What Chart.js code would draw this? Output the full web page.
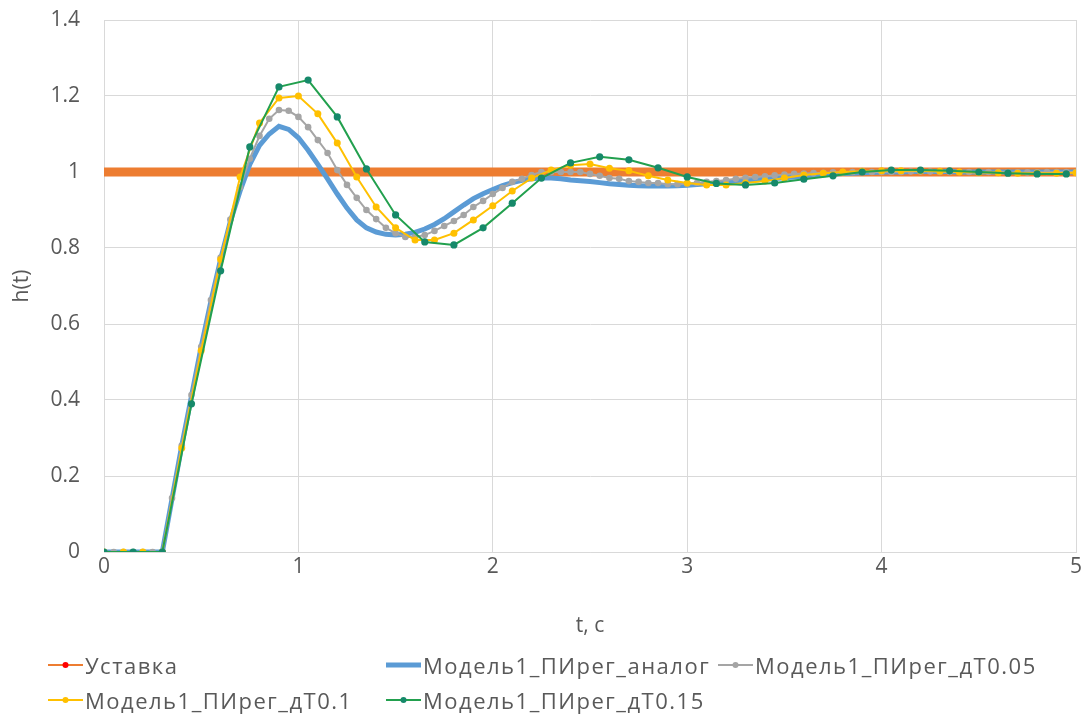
<!DOCTYPE html>
<html>
<head>
<meta charset="utf-8">
<script src="https://cdn.jsdelivr.net/npm/chart.js@4"></script>
<style>
  body { margin: 0; background: #fff; }
  #wrap { position: relative; width: 1085px; height: 715px; }
  #legend { position: absolute; left: 0; top: 0; width: 1085px; height: 715px; pointer-events: none; }
  .item { position: absolute; height: 30px; display: flex; align-items: center; font-family: "Open Sans", sans-serif; font-size: 22px; letter-spacing: 1.5px; color: #595959; white-space: nowrap; }
  .item svg { margin-right: 2px; }
</style>
</head>
<body>
<div id="wrap">
  <canvas id="myChart"></canvas>
  <div id="legend"></div>
</div>
<script>
// step response h(t) values

const tAnalog = Array.from({length: 101}, (_, i) => +(i * 0.05).toFixed(2)); // t, c
const t005 = tAnalog;
const t01 = Array.from({length: 51}, (_, i) => +(i * 0.1).toFixed(1));
const t015 = Array.from({length: 34}, (_, i) => +(i * 0.15).toFixed(2));
const tSet = [0, 5];

const hSet = [1, 1]; // Уставка

const hAnalog = [
    0, 0, 0, 0, 0, 0, 0,
    0.14, 0.28, 0.41, 0.54, 0.66, 0.77, 0.87, 0.95, 1.02, 1.07, 1.10, 1.12,
    1.112, 1.09, 1.057, 1.02, 0.982, 0.942, 0.905, 0.874, 0.853, 0.842, 0.836, 0.834,
    0.836, 0.841, 0.85, 0.862, 0.877, 0.895, 0.913, 0.93, 0.943, 0.954,
    0.964, 0.972, 0.978, 0.982, 0.984, 0.984, 0.982, 0.979, 0.977, 0.975,
    0.972, 0.969, 0.967, 0.965, 0.964, 0.963, 0.963, 0.963, 0.964, 0.965,
    0.967, 0.969, 0.971, 0.973, 0.975, 0.977, 0.979, 0.981, 0.983, 0.985,
    0.987, 0.989, 0.991, 0.993, 0.994, 0.996, 0.997, 0.998, 0.999, 1.0,
    1.0, 1.0, 1.001, 1.001, 1.001, 1.001, 1.001, 1.0, 1.0, 1.0,
    1.0, 1.0, 1.0, 1.0, 1.0, 1.0, 1.0, 1.0, 1.0, 1.0
];

const h005 = [
    0, 0, 0, 0, 0, 0, 0,
    0.142, 0.28, 0.413, 0.54, 0.663, 0.775, 0.875, 0.96, 1.035, 1.095, 1.14, 1.163,
    1.161, 1.145, 1.118, 1.084, 1.05, 1.005, 0.966, 0.932, 0.9, 0.876, 0.853, 0.839,
    0.829, 0.829, 0.834, 0.845, 0.858, 0.871, 0.887, 0.908, 0.924, 0.942,
    0.958, 0.974, 0.982, 0.992, 1.0, 1.0, 1.0, 1.0, 1.0, 0.995,
    0.99, 0.984, 0.982, 0.976, 0.974, 0.971, 0.971, 0.968, 0.968, 0.969,
    0.971, 0.974, 0.976, 0.979, 0.982, 0.985, 0.987, 0.989, 0.991, 0.993,
    0.995, 0.996, 0.997, 0.998, 0.999, 1.0, 1.0, 1.0, 1.0, 1.0,
    1.0, 1.0, 1.001, 1.001, 1.001, 1.0, 1.0, 1.0, 1.0, 1.0,
    1.0, 1.0, 0.999, 0.999, 0.999, 0.999, 1.0, 1.0, 1.0, 1.0
];

const h01 = [
    0, 0, 0, 0, 0.274, 0.53, 0.77, 0.987, 1.129, 1.195,
    1.2, 1.153, 1.076, 0.987, 0.908, 0.853, 0.821, 0.821, 0.839, 0.874,
    0.911, 0.95, 0.984, 1.005, 1.018, 1.021, 1.01, 1.003, 0.99, 0.979,
    0.971, 0.966, 0.966, 0.971, 0.976, 0.984, 0.992, 0.997, 1.0, 1.002,
    1.003, 1.003, 1.003, 1.002, 1.0, 0.999, 0.998, 0.997, 0.997, 0.997,
    0.998
];

const h015 = [
    0, 0, 0, 0.39, 0.74, 1.066, 1.224, 1.242, 1.145, 1.008,
    0.887, 0.816, 0.808, 0.853, 0.918, 0.984, 1.024, 1.04, 1.032, 1.011,
    0.987, 0.97, 0.966, 0.971, 0.981, 0.99, 1.0, 1.005, 1.005, 1.003,
    1.0, 0.997, 0.995, 0.995
];

const yTicks = [0, 0.2, 0.4, 0.6, 0.8, 1, 1.2, 1.4];
const xTicks = [0, 1, 2, 3, 4, 5];

const labels = ['Уставка', 'Модель1_ПИрег_аналог', 'Модель1_ПИрег_дТ0.05', 'Модель1_ПИрег_дТ0.1', 'Модель1_ПИрег_дТ0.15'];

function pts(ts, hs) {
    return ts.map((t, i) => ({x: t, y: hs[i]}));
}

const textColor = '#595959';
const gridColor = '#d9d9d9';
const font = {family: '"Open Sans", sans-serif', size: 21};

const ctx = document.getElementById('myChart');
const myChart = new Chart(ctx, {
    type: 'line',
    data: {
        datasets: [
            {
                label: labels[0],
                data: pts(tSet, hSet),
                borderColor: '#ED7D31',
                borderWidth: 9,
                borderCapStyle: 'round',
                pointRadius: 0,
                order: 5
            },
            {
                label: labels[1],
                data: pts(tAnalog, hAnalog),
                borderColor: '#5B9BD5',
                borderWidth: 5,
                borderCapStyle: 'round',
                pointRadius: 0,
                order: 4
            },
            {
                label: labels[2],
                data: pts(t005, h005),
                borderColor: '#A5A5A5',
                backgroundColor: '#A5A5A5',
                borderWidth: 2,
                pointRadius: 3.3,
                pointBorderWidth: 0,
                order: 3
            },
            {
                label: labels[3],
                data: pts(t01, h01),
                borderColor: '#FFC000',
                backgroundColor: '#FFC000',
                borderWidth: 2,
                pointRadius: 3.5,
                pointBorderWidth: 0,
                order: 2
            },
            {
                label: labels[4],
                data: pts(t015, h015),
                borderColor: '#22A04E',
                backgroundColor: '#16896A',
                borderWidth: 2,
                pointRadius: 3.6,
                pointBorderWidth: 0,
                order: 1
            }
        ]
    },
    options: {
        responsive: true,
        maintainAspectRatio: false,
        animation: false,
        layout: {
            padding: {left: 0, right: 9, top: 20, bottom: 70}
        },
        elements: {
            line: {tension: 0}
        },
        scales: {
            x: {
                type: 'linear',
                min: 0,
                max: 5,
                afterBuildTicks: s => { s.ticks = xTicks.map(v => ({value: v})); },
                afterFit: s => { s.height = 93; s.paddingRight = 0; s.paddingLeft = 0; },
                grid: {color: gridColor, drawTicks: false},
                border: {color: gridColor},
                ticks: {color: textColor, font: font, padding: 2},
                title: {
                    display: true,
                    text: 't, c',
                    color: textColor,
                    font: font,
                    padding: {top: 0, bottom: 6}
                }
            },
            y: {
                min: 0,
                max: 1.4,
                afterBuildTicks: s => { s.ticks = yTicks.map(v => ({value: v})); },
                afterFit: s => { s.width = 104; s.paddingTop = 0; s.paddingBottom = 0; },
                grid: {color: gridColor, drawTicks: false},
                border: {color: gridColor},
                ticks: {
                    color: textColor,
                    font: font,
                    padding: 24,
                    callback: v => String(+v.toFixed(1))
                },
                title: {
                    display: true,
                    text: 'h(t)',
                    color: textColor,
                    font: font,
                    padding: {top: 9, bottom: 0}
                }
            }
        },
        plugins: {
            legend: {display: false},
            tooltip: {enabled: false}
        }
    }
});

// legend laid out like the original (two rows, columns)
const legendPos = [
    {x: 48, y: 650},
    {x: 386, y: 650},
    {x: 718, y: 650},
    {x: 48, y: 685},
    {x: 386, y: 685}
];
const legendIcon = [
    {line: '#ED7D31', w: 2, dot: '#FF0000'},
    {line: '#5B9BD5', w: 5, dot: null},
    {line: '#A5A5A5', w: 2, dot: '#A5A5A5'},
    {line: '#FFC000', w: 2, dot: '#FFC000'},
    {line: '#22A04E', w: 2, dot: '#16896A'}
];
const legend = document.getElementById('legend');
labels.forEach((lab, i) => {
    const p = legendPos[i], ic = legendIcon[i];
    const div = document.createElement('div');
    div.className = 'item';
    div.style.left = p.x + 'px';
    div.style.top = p.y + 'px';
    let svg = '<svg width="35" height="12" viewBox="0 0 35 12"><line x1="0" y1="6" x2="35" y2="6" stroke="' + ic.line + '" stroke-width="' + ic.w + '"/>';
    if (ic.dot) svg += '<circle cx="17.5" cy="6" r="3" fill="' + ic.dot + '"/>';
    svg += '</svg>';
    div.innerHTML = svg + '<span>' + lab + '</span>';
    legend.appendChild(div);
});
</script>
</body>
</html>
